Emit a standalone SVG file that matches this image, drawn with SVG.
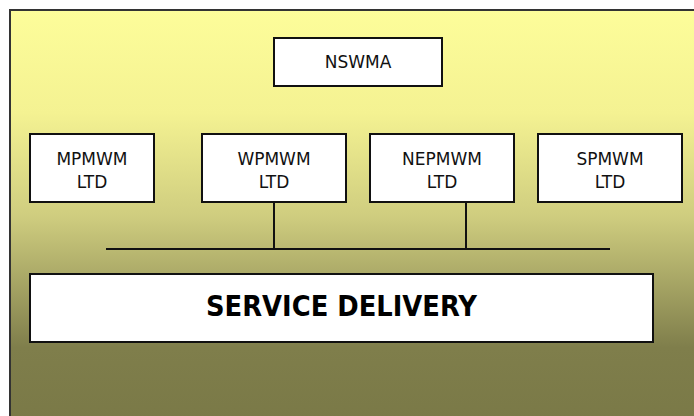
<svg xmlns="http://www.w3.org/2000/svg" width="694" height="416" viewBox="0 0 694 416">
  <defs>
    <linearGradient id="bgFill" x1="0" y1="0" x2="0" y2="1">
      <stop offset="0" stop-color="#fdfd9a"/>
      <stop offset="0.25" stop-color="#f4f292"/>
      <stop offset="0.5" stop-color="#cfcd7f"/>
      <stop offset="0.82" stop-color="#7f7e4b"/>
      <stop offset="1" stop-color="#7a7947"/>
    </linearGradient>
    <style>
      .box { fill: #ffffff; stroke: #111111; stroke-width: 2; }
      .lbl { font-family: "DejaVu Sans", "Liberation Sans", sans-serif; font-size: 17px; fill: #111111; text-anchor: middle; }
      .big { font-family: "DejaVu Sans Condensed", "DejaVu Sans", sans-serif; font-size: 29px; font-weight: bold; fill: #000000; text-anchor: middle; }
      .wire { stroke: #111111; stroke-width: 2; fill: none; }
    </style>
  </defs>

  <!-- panel -->
  <rect x="10" y="10" width="690" height="412" fill="url(#bgFill)" stroke="#333333" stroke-width="2"/>

  <!-- connectors -->
  <g id="connectors">
    <line class="wire" x1="106" y1="249" x2="610" y2="249"/>
    <line class="wire" x1="274" y1="202" x2="274" y2="249"/>
    <line class="wire" x1="466" y1="202" x2="466" y2="249"/>
  </g>

  <g id="nswma">
    <rect class="box" x="274" y="38" width="168" height="48"/>
    <text class="lbl" x="358" y="68">NSWMA</text>
  </g>

  <g id="mpmwm">
    <rect class="box" x="30" y="134" width="124" height="68"/>
    <text class="lbl" x="92" y="165">MPMWM</text>
    <text class="lbl" x="92" y="188">LTD</text>
  </g>

  <g id="wpmwm">
    <rect class="box" x="202" y="134" width="144" height="68"/>
    <text class="lbl" x="274" y="165">WPMWM</text>
    <text class="lbl" x="274" y="188">LTD</text>
  </g>

  <g id="nepmwm">
    <rect class="box" x="370" y="134" width="144" height="68"/>
    <text class="lbl" x="442" y="165">NEPMWM</text>
    <text class="lbl" x="442" y="188">LTD</text>
  </g>

  <g id="spmwm">
    <rect class="box" x="538" y="134" width="144" height="68"/>
    <text class="lbl" x="610" y="165">SPMWM</text>
    <text class="lbl" x="610" y="188">LTD</text>
  </g>

  <g id="service-delivery">
    <rect class="box" x="30" y="274" width="623" height="68"/>
    <text class="big" x="341.5" y="316" textLength="271" lengthAdjust="spacingAndGlyphs">SERVICE DELIVERY</text>
  </g>
</svg>
